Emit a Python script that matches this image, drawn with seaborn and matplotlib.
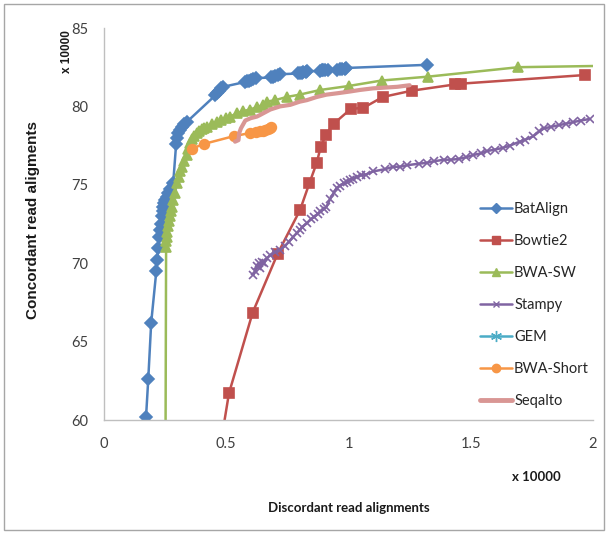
import matplotlib
matplotlib.use("Agg")
import matplotlib.pyplot as plt
from matplotlib.lines import Line2D
from matplotlib.patches import Rectangle
import seaborn as sns
import pandas as pd

sns.set_theme(style="white")
plt.rcParams['font.family'] = ['Lato', 'DejaVu Sans']

# ---------------- data (units of 10000) ----------------
batalign_x = [0.172, 0.181, 0.193, 0.214, 0.218, 0.222, 0.225, 0.229, 0.232, 0.236, 0.240, 0.243,
              0.247, 0.250, 0.256, 0.262, 0.270, 0.283, 0.295, 0.300, 0.304, 0.310, 0.318, 0.328,
              0.338, 0.455, 0.462, 0.470, 0.480, 0.488, 0.575, 0.584, 0.592, 0.600, 0.610, 0.620,
              0.685, 0.693, 0.700, 0.710, 0.720, 0.795, 0.800, 0.808, 0.815, 0.825, 0.830, 0.885,
              0.890, 0.897, 0.905, 0.915, 0.955, 0.965, 0.975, 0.985, 0.990, 1.320]
batalign_y = [60.2, 62.6, 66.2, 69.5, 70.2, 71.0, 71.7, 72.1, 72.5, 73.0, 73.3, 73.6,
              73.85, 74.0, 74.2, 74.5, 74.75, 75.1, 77.6, 78.0, 78.3, 78.5, 78.7, 78.85,
              79.0, 80.7, 80.85, 81.0, 81.15, 81.25, 81.55, 81.6, 81.65, 81.7, 81.75, 81.8,
              81.85, 81.9, 81.95, 82.0, 82.05, 82.1, 82.15, 82.15, 82.2, 82.2, 82.25, 82.25,
              82.3, 82.3, 82.3, 82.35, 82.35, 82.4, 82.4, 82.4, 82.45, 82.65]

bowtie2_x = [0.488, 0.511, 0.608, 0.710, 0.802, 0.840, 0.870, 0.886, 0.908, 0.940, 1.010, 1.060,
             1.140, 1.258, 1.435, 1.460, 1.967]
bowtie2_y = [59.5, 61.7, 66.85, 70.6, 73.4, 75.1, 76.4, 77.4, 78.2, 78.9, 79.85, 79.9,
             80.6, 81.0, 81.4, 81.45, 82.0]

bwasw_x = [0.250, 0.254, 0.255, 0.256, 0.258, 0.261, 0.265, 0.270, 0.274, 0.278, 0.284, 0.290,
           0.297, 0.305, 0.312, 0.318, 0.326, 0.338, 0.345, 0.352, 0.360, 0.370, 0.379, 0.390,
           0.400, 0.410, 0.420, 0.440, 0.461, 0.480, 0.500, 0.515, 0.543, 0.570, 0.597, 0.625,
           0.652, 0.665, 0.700, 0.747, 0.800, 0.885, 1.000, 1.135, 1.327, 1.695, 2.100]
bwasw_y = [50.0, 71.05, 71.4, 71.7, 72.0, 72.4, 72.7, 73.0, 73.3, 73.6, 74.0, 74.5,
           75.1, 75.5, 75.85, 76.15, 76.5, 76.9, 77.3, 77.65, 77.9, 78.1, 78.3, 78.45,
           78.55, 78.65, 78.7, 78.85, 79.0, 79.15, 79.25, 79.35, 79.55, 79.7, 79.8, 79.95,
           80.1, 80.3, 80.4, 80.6, 80.75, 81.05, 81.3, 81.65, 81.9, 82.5, 82.6]

stampy_x = [0.611, 0.618, 0.625, 0.632, 0.640, 0.648, 0.655, 0.665, 0.680, 0.700, 0.720, 0.740,
            0.755, 0.775, 0.790, 0.800, 0.810, 0.830, 0.845, 0.860, 0.875, 0.885, 0.900, 0.910,
            0.925, 0.940, 0.951, 0.965, 0.980, 0.993, 1.005, 1.020, 1.033, 1.050, 1.070, 1.100,
            1.150, 1.183, 1.210, 1.240, 1.290, 1.320, 1.350, 1.390, 1.420, 1.450, 1.480, 1.510,
            1.540, 1.565, 1.600, 1.630, 1.660, 1.700, 1.720, 1.756, 1.780, 1.800, 1.830, 1.860,
            1.890, 1.920, 1.950, 1.987]
stampy_y = [69.25, 69.5, 69.8, 70.0, 69.7, 70.1, 70.0, 70.3, 70.5, 70.7, 70.85, 71.1,
            71.35, 71.7, 71.95, 72.1, 72.3, 72.55, 72.8, 72.95, 73.15, 73.3, 73.45, 73.6,
            74.1, 74.5, 74.8, 74.95, 75.1, 75.2, 75.3, 75.4, 75.5, 75.6, 75.65, 75.85,
            76.0, 76.15, 76.15, 76.25, 76.35, 76.4, 76.5, 76.6, 76.6, 76.65, 76.75, 76.9,
            77.0, 77.15, 77.25, 77.35, 77.5, 77.75, 77.85, 78.1, 78.4, 78.6, 78.7, 78.8,
            78.9, 79.0, 79.1, 79.2]

bwashort_x = [0.359, 0.407, 0.530, 0.597, 0.620, 0.638, 0.650, 0.660, 0.670, 0.680, 0.685]
bwashort_y = [77.3, 77.6, 78.1, 78.3, 78.35, 78.4, 78.45, 78.5, 78.55, 78.65, 78.7]

seqalto_x = [0.536, 0.550, 0.553, 0.560, 0.578, 0.600, 0.625, 0.638, 0.680, 0.720, 0.762, 0.800,
             0.830, 0.870, 0.910, 0.960, 1.006, 1.047, 1.100, 1.150, 1.200, 1.250]
seqalto_y = [77.75, 77.85, 78.3, 78.6, 79.1, 79.25, 79.35, 79.45, 79.8, 80.0, 80.1, 80.3,
             80.4, 80.6, 80.75, 80.85, 80.95, 81.05, 81.15, 81.2, 81.25, 81.35]

x_ticks = [0, 0.5, 1, 1.5, 2]
x_tick_labels = ["0", "0.5", "1", "1.5", "2"]
y_ticks = [60, 65, 70, 75, 80, 85]

series = [
    ("BatAlign", batalign_x, batalign_y, "#4F81BD", "D", 6, 1.8),
    ("Bowtie2", bowtie2_x, bowtie2_y, "#C0504D", "s", 7, 1.8),
    ("BWA-SW", bwasw_x, bwasw_y, "#9BBB59", "^", 7, 1.8),
    ("Stampy", stampy_x, stampy_y, "#8064A2", "x", 6, 1.8),
    ("BWA-Short", bwashort_x, bwashort_y, "#F79646", "o", 7, 1.8),
    ("Seqalto", seqalto_x, seqalto_y, "#D99694", None, 0, 3.0),
]

fig = plt.figure(figsize=(6.08, 5.35), dpi=100)
fig.patch.set_facecolor("white")
fig.add_artist(Rectangle((4 / 608, 5 / 535), 600 / 608, 526 / 535, transform=fig.transFigure,
                         fill=False, edgecolor="#A6A6A6", linewidth=1.0))

ax = fig.add_axes([104 / 608, (535 - 420) / 535, (593 - 104) / 608, (420 - 28) / 535])

handles = {}
for name, xs, ys, col, mk, ms, lw in series:
    df = pd.DataFrame({"x": xs, "y": ys})
    kw = dict(marker=mk, markersize=ms, markeredgecolor=col, markerfacecolor=col,
              markeredgewidth=1.2) if mk else {}
    sns.lineplot(data=df, x="x", y="y", sort=False, estimator=None, color=col,
                 linewidth=lw, ax=ax, legend=False, **kw)
    handles[name] = Line2D([], [], color=col, linewidth=lw if mk else 3.5,
                           marker=mk if mk else None, markersize=ms - 1,
                           markerfacecolor=col, markeredgecolor=col)

handles["GEM"] = Line2D([], [], color="#4BACC6", linewidth=1.8, marker=(6, 2, 0),
                        markersize=8, markeredgecolor="#4BACC6")
order = ["BatAlign", "Bowtie2", "BWA-SW", "Stampy", "GEM", "BWA-Short", "Seqalto"]

ax.set_xlim(0, 2)
ax.set_ylim(60, 85)
ax.set_xticks(x_ticks)
ax.set_xticklabels(x_tick_labels)
ax.set_yticks(y_ticks)
ax.set_xlabel("")
ax.set_ylabel("")
for s in ["top", "right"]:
    ax.spines[s].set_visible(False)
for s in ["left", "bottom"]:
    ax.spines[s].set_color("#BFBFBF")
    ax.spines[s].set_linewidth(1.0)
ax.tick_params(axis="both", which="major", length=5, width=1, color="#BFBFBF",
               labelsize=10.5, labelcolor="#404040", direction="out")
ax.tick_params(axis="x", pad=7)
ax.tick_params(axis="y", pad=6)
ax.set_facecolor("white")

leg = ax.legend([handles[n] for n in order], order, loc="upper left",
                bbox_to_anchor=(474 / 608, (535 - 196) / 535), bbox_transform=fig.transFigure,
                frameon=False, fontsize=10.5, labelspacing=1.24, handlelength=2.2,
                handletextpad=0.15, borderaxespad=0)
for t in leg.get_texts():
    t.set_color("#262626")

fig.text(33 / 608, 1 - 220 / 535, "Concordant read aligments", rotation=90, ha="center",
         va="center", fontsize=11, fontweight="bold", family=["Liberation Sans", "DejaVu Sans"],
         color="#1a1a1a")
fig.text(67 / 608, 1 - 52 / 535, "x 10000", rotation=90, ha="center", va="center",
         fontsize=8.5, fontweight="bold", family=["Liberation Sans", "DejaVu Sans"], color="#1a1a1a")
fig.text(349 / 608, 1 - 508 / 535, "Discordant read alignments", ha="center", va="center",
         fontsize=9.5, fontweight="bold", color="#1a1a1a")
fig.text(536 / 608, 1 - 477 / 535, "x 10000", ha="center", va="center",
         fontsize=9.5, fontweight="bold", color="#1a1a1a")

fig.savefig("out.png", dpi=100, facecolor="white")
